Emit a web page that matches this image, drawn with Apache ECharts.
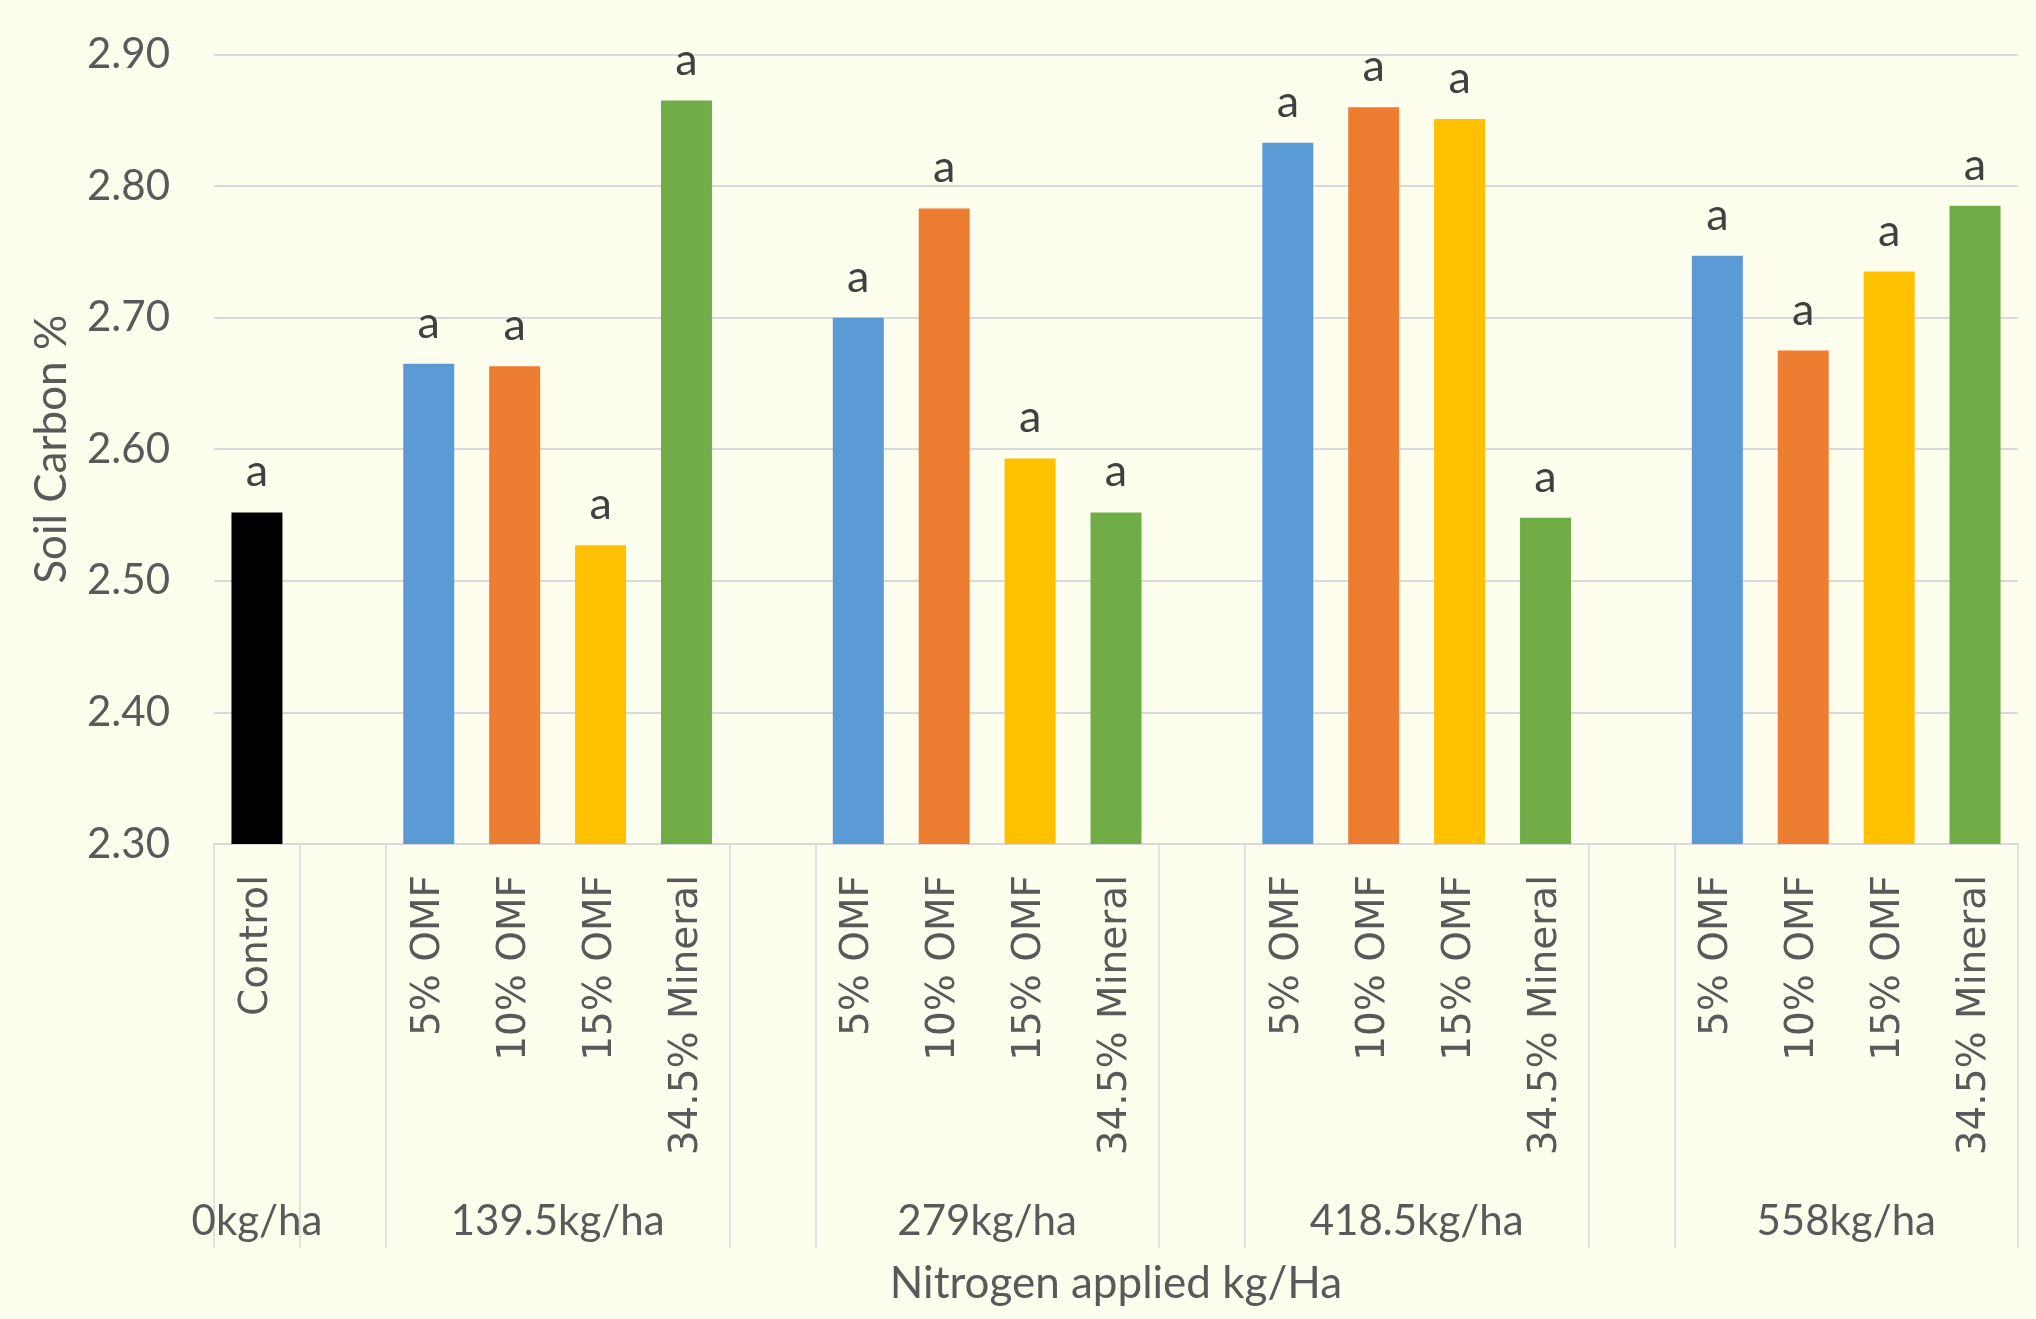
<!DOCTYPE html>
<html>
<head>
<meta charset="utf-8">
<title>Soil Carbon % by nitrogen rate</title>
<script src="https://cdn.jsdelivr.net/npm/echarts@6/dist/echarts.min.js"></script>
<style>
  html, body { margin: 0; padding: 0; background: #FEFEEF; }
  #chart { width: 2036px; height: 1319px; }
</style>
</head>
<body>
<div id="chart"></div>
<script>
// Nitrogen rate groups (outer axis level)
const groupNames = ['0kg/ha', '139.5kg/ha', '279kg/ha', '418.5kg/ha', '558kg/ha'];
// Fertiliser treatments inside each non-zero rate group (inner axis level)
const treatmentNames = ['5% OMF', '10% OMF', '15% OMF', '34.5% Mineral'];
const controlName = 'Control';

// Soil carbon % values, one entry per nitrogen rate (139.5, 279, 418.5, 558 kg/ha)
const controlValue = 2.552;
const omf5Values = [2.665, 2.700, 2.833, 2.747];
const omf10Values = [2.663, 2.783, 2.860, 2.675];
const omf15Values = [2.527, 2.593, 2.851, 2.735];
const mineralValues = [2.865, 2.552, 2.548, 2.785];

// Significance letters
const controlLetter = 'a';
const omf5Letters = ['a', 'a', 'a', 'a'];
const omf10Letters = ['a', 'a', 'a', 'a'];
const omf15Letters = ['a', 'a', 'a', 'a'];
const mineralLetters = ['a', 'a', 'a', 'a'];

// Y axis ticks
const yTicks = [2.30, 2.40, 2.50, 2.60, 2.70, 2.80, 2.90];

const controlColor = '#000000';
const treatmentColors = ['#5B9BD5', '#ED7D31', '#FFC000', '#70AD47'];

// Build the flat category list: Control, a spacer, then each rate group of four
// treatments separated by spacer slots.
const categories = [];
const barData = [];
const groupStarts = [];   // first slot index of each group (for separator ticks)
const groupCenters = [];  // centre of each group in slot units
const byTreatment = [omf5Values, omf10Values, omf15Values, mineralValues];
const lettersByTreatment = [omf5Letters, omf10Letters, omf15Letters, mineralLetters];

groupStarts.push(0);
groupCenters.push(0.5);
categories.push(controlName);
barData.push({ value: controlValue, letter: controlLetter, itemStyle: { color: controlColor } });

for (let g = 0; g < byTreatment[0].length; g++) {
  // spacer slot
  groupStarts.push(categories.length);
  categories.push('');
  barData.push({ value: '-', letter: '' });
  // rate group
  const start = categories.length;
  groupStarts.push(start);
  groupCenters.push(start + treatmentNames.length / 2);
  for (let t = 0; t < treatmentNames.length; t++) {
    categories.push(treatmentNames[t]);
    barData.push({
      value: byTreatment[t][g],
      letter: lettersByTreatment[t][g],
      itemStyle: { color: treatmentColors[t] }
    });
  }
}
const slotCount = categories.length;
const tickSet = new Set(groupStarts);
const groupLabelAt = {};
groupCenters.forEach((c, i) => { groupLabelAt[c.toFixed(1)] = groupNames[i]; });

const axisGrey = '#D9D9D9';
const textGrey = '#595959';
const calibriLike = 'Lato, "Open Sans", sans-serif';

const chart = echarts.init(document.getElementById('chart'));
chart.setOption({
  backgroundColor: '#FEFEEF',
  animation: false,
  grid: { left: 214, right: 18, top: 54.5, bottom: 475, containLabel: false },
  xAxis: [
    {
      type: 'category',
      data: categories,
      boundaryGap: true,
      axisLine: { show: true, lineStyle: { color: axisGrey, width: 2 } },
      axisTick: {
        show: true,
        length: 404,
        interval: (index) => tickSet.has(index),
        lineStyle: { color: axisGrey, width: 1.5 }
      },
      axisLabel: {
        interval: 0,
        rotate: 90,
        margin: 31,
        color: textGrey,
        fontFamily: '"DejaVu Sans", Verdana, sans-serif',
        fontSize: 39
      },
      splitLine: { show: false }
    },
    {
      type: 'value',
      min: 0,
      max: slotCount,
      interval: 0.5,
      position: 'bottom',
      axisLine: { show: false },
      axisTick: { show: false },
      splitLine: { show: false },
      axisLabel: {
        margin: 356,
        color: textGrey,
        fontFamily: calibriLike,
        fontSize: 42,
        showMinLabel: true,
        showMaxLabel: true,
        formatter: (v) => groupLabelAt[Number(v).toFixed(1)] || ''
      },
      name: 'Nitrogen applied kg/Ha',
      nameLocation: 'middle',
      nameGap: 418,
      nameTextStyle: { color: textGrey, fontFamily: calibriLike, fontSize: 44 }
    }
  ],
  yAxis: {
    type: 'value',
    min: yTicks[0],
    max: yTicks[yTicks.length - 1],
    interval: 0.1,
    axisLine: { show: false },
    axisTick: { show: false },
    splitLine: { show: true, lineStyle: { color: axisGrey, width: 2 } },
    axisLabel: {
      margin: 44,
      color: textGrey,
      fontFamily: calibriLike,
      fontSize: 42,
      formatter: (v) => v.toFixed(2)
    },
    name: 'Soil Carbon %',
    nameLocation: 'middle',
    nameRotate: 90,
    nameGap: 140,
    nameTextStyle: { color: textGrey, fontFamily: calibriLike, fontSize: 44 }
  },
  series: [
    {
      type: 'bar',
      xAxisIndex: 0,
      yAxisIndex: 0,
      data: barData,
      barWidth: 51,
      label: {
        show: true,
        position: 'top',
        distance: 18,
        color: '#404040',
        fontFamily: calibriLike,
        fontSize: 45,
        formatter: (p) => p.data.letter
      }
    }
  ]
});
</script>
</body>
</html>
